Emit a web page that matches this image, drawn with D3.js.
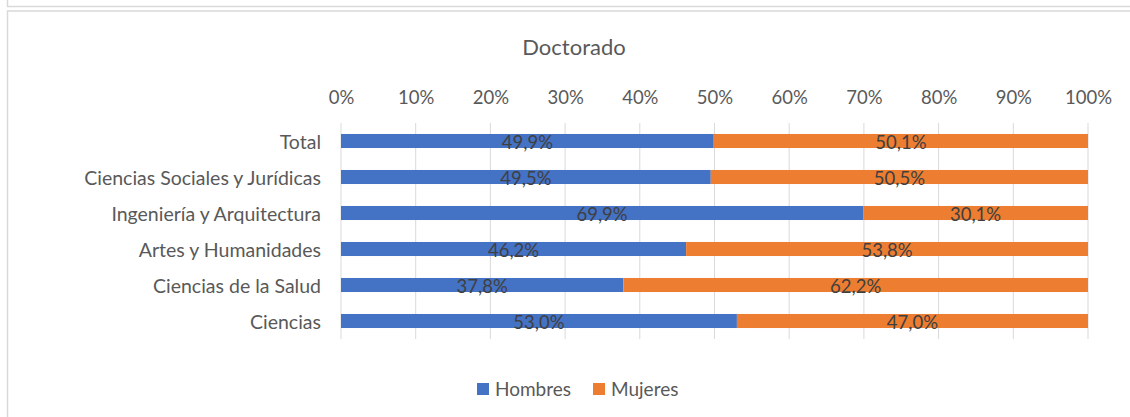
<!DOCTYPE html>
<html>
<head>
<meta charset="utf-8">
<script src="https://cdn.jsdelivr.net/npm/d3@7"></script>
<style>
  html, body { margin: 0; padding: 0; background: #fff; }
  svg { display: block; }
  svg text { font-family: Lato, "Open Sans", sans-serif; }
  .tick text { fill: #595959; font-size: 18.5px; }
  .cat .tick text { font-size: 19.5px; }
  .lbl { fill: #404040; font-size: 18.5px; }
</style>
</head>
<body>
<div id="chart"></div>
<script>
const categories = ["Total", "Ciencias Sociales y Jurídicas", "Ingeniería y Arquitectura",
  "Artes y Humanidades", "Ciencias de la Salud", "Ciencias"];
const hombres = [49.9, 49.5, 69.9, 46.2, 37.8, 53.0];
const mujeres = [50.1, 50.5, 30.1, 53.8, 62.2, 47.0];
const seriesNames = ["Hombres", "Mujeres"];
const colors = ["#4472C4", "#ED7D31"];
const xTicks = [0, 10, 20, 30, 40, 50, 60, 70, 80, 90, 100];

const width = 1130, height = 417;
const rows = categories.map((c, i) => ({ cat: c, Hombres: hombres[i], Mujeres: mujeres[i] }));

const svg = d3.select("#chart").append("svg")
  .attr("width", width).attr("height", height);

// frame borders
svg.append("rect").attr("x", 7.5).attr("y", -20).attr("width", 1140).attr("height", 26.5)
  .attr("fill", "none").attr("stroke", "#d9d9d9").attr("stroke-width", 1.5);
svg.append("rect").attr("x", 7.5).attr("y", 11).attr("width", 1140).attr("height", 430)
  .attr("fill", "none").attr("stroke", "#d9d9d9").attr("stroke-width", 1.5);

const x = d3.scaleLinear().domain([0, 100]).range([341, 1088]);
const y = d3.scaleBand().domain(categories).range([123, 339]).paddingInner(0.61).paddingOuter(0.305);

// gridlines
svg.append("g").selectAll("line").data(xTicks).join("line")
  .attr("x1", d => x(d)).attr("x2", d => x(d))
  .attr("y1", 123).attr("y2", 339)
  .attr("stroke", "#d9d9d9").attr("stroke-width", 1);

// top axis labels
const topAxis = svg.append("g").attr("transform", "translate(0,104)")
  .call(d3.axisTop(x).tickValues(xTicks).tickFormat(d => d + "%").tickSize(0).tickPadding(0));
topAxis.select(".domain").remove();
topAxis.attr("font-family", null).attr("font-size", null);

// left axis labels
const leftAxis = svg.append("g").attr("class", "cat").attr("transform", "translate(341,1)")
  .call(d3.axisLeft(y).tickSize(0).tickPadding(20));
leftAxis.select(".domain").remove();
leftAxis.attr("font-family", null).attr("font-size", null);
leftAxis.selectAll("text").attr("dy", "0.35em");

const stack = d3.stack().keys(seriesNames)(rows);

const layer = svg.append("g").selectAll("g").data(stack).join("g")
  .attr("fill", (d, i) => colors[i]);

layer.selectAll("rect").data(d => d).join("rect")
  .attr("x", d => x(d[0]))
  .attr("y", d => y(d.data.cat))
  .attr("width", d => x(d[1]) - x(d[0]))
  .attr("height", y.bandwidth());

layer.selectAll("text").data(d => d).join("text")
  .attr("class", "lbl")
  .attr("text-anchor", "middle")
  .attr("x", d => (x(d[0]) + x(d[1])) / 2)
  .attr("y", d => y(d.data.cat) + y.bandwidth() / 2 + 7.5)
  .text(d => d3.format(".1f")(d[1] - d[0]).replace(".", ",") + "%");

// title
svg.append("text").attr("x", 574).attr("y", 55).attr("text-anchor", "middle")
  .attr("fill", "#595959").style("font-size", "22px").text("Doctorado");

// legend
const legend = svg.append("g").selectAll("g").data(seriesNames).join("g")
  .attr("transform", (d, i) => `translate(${i === 0 ? 477 : 593},383)`);
legend.append("rect").attr("width", 12).attr("height", 12).attr("fill", (d, i) => colors[i]);
legend.append("text").attr("x", 18).attr("y", 13).attr("fill", "#595959")
  .style("font-size", "19px").text(d => d);
</script>
</body>
</html>
